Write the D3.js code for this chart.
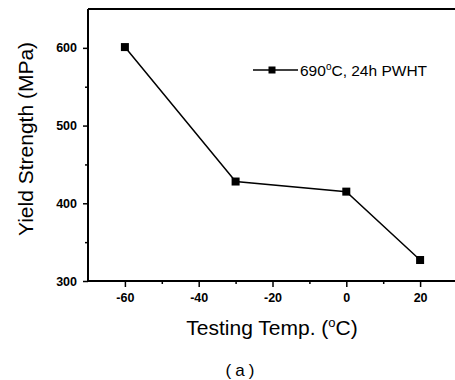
<!DOCTYPE html>
<html>
<head>
<meta charset="utf-8">
<script src="https://cdn.jsdelivr.net/npm/d3@7"></script>
<style>
html,body{margin:0;padding:0;background:#fff;overflow:hidden;}
svg{display:block;}
text{font-family:"Liberation Sans",Arial,sans-serif;fill:#000;}
</style>
</head>
<body>
<svg id="chart" width="455" height="380"></svg>
<script>
// Data
const temps = [-60, -30, 0, 20];
const yieldStrength = [601, 428, 415, 327];
const xTicks = [-60, -40, -20, 0, 20];
const xMinorTicks = [-50, -30, -10, 10];
const yTicks = [300, 400, 500, 600];
const yMinorTicks = [350, 450, 550];
const seriesName = "690";
const xTitle = "Testing Temp. (";
const yTitle = "Yield Strength (MPa)";
const caption = "(a)";

const svg = d3.select("#chart");
const x = d3.scaleLinear().domain([-70, 30]).range([88, 457]);
const y = d3.scaleLinear().domain([300, 650]).range([281, 9]);

// Axes
const fmt = d => String(d);
const gx = svg.append("g").attr("transform", "translate(0,281)")
  .call(d3.axisBottom(x).tickValues(xTicks).tickSize(6).tickPadding(6).tickFormat(fmt));
const gxm = svg.append("g").attr("transform", "translate(0,281)")
  .call(d3.axisBottom(x).tickValues(xMinorTicks).tickSize(3).tickFormat(""));
const gy = svg.append("g").attr("transform", "translate(88,0)")
  .call(d3.axisLeft(y).tickValues(yTicks).tickSize(5).tickPadding(6).tickFormat(fmt));
const gym = svg.append("g").attr("transform", "translate(88,0)")
  .call(d3.axisLeft(y).tickValues(yMinorTicks).tickSize(3).tickFormat(""));
[gx, gxm, gy, gym].forEach(g => {
  g.selectAll(".domain").remove();
  g.selectAll("line").attr("stroke", "#000").attr("stroke-width", 1.5);
  g.selectAll("text").attr("font-size", 12.5).attr("font-weight", "bold")
    .attr("font-family", "Liberation Sans, Arial, sans-serif").attr("fill", "#000");
});

// Frame lines (left, bottom, top)
svg.append("line").attr("x1", x(-70)).attr("x2", x(-70)).attr("y1", y(650)).attr("y2", y(300))
  .attr("stroke", "#000").attr("stroke-width", 2);
svg.append("line").attr("x1", x(-70)).attr("x2", x(30)).attr("y1", y(300)).attr("y2", y(300))
  .attr("stroke", "#000").attr("stroke-width", 2);
svg.append("line").attr("x1", x(-70)).attr("x2", x(30)).attr("y1", y(650)).attr("y2", y(650))
  .attr("stroke", "#000").attr("stroke-width", 2);

// Series line
const pts = temps.map((t, i) => [t, yieldStrength[i]]);
svg.append("path").datum(pts)
  .attr("d", d3.line().x(d => x(d[0])).y(d => y(d[1])))
  .attr("fill", "none").attr("stroke", "#000").attr("stroke-width", 1.5);
const ms = 8;
svg.selectAll("rect.pt").data(pts).enter().append("rect").attr("class", "pt")
  .attr("x", d => x(d[0]) - ms / 2).attr("y", d => y(d[1]) - ms / 2)
  .attr("width", ms).attr("height", ms).attr("fill", "#000");

// Legend
const lg = svg.append("g");
lg.append("line").attr("x1", 253).attr("x2", 298).attr("y1", 70).attr("y2", 70)
  .attr("stroke", "#000").attr("stroke-width", 1.5);
lg.append("rect").attr("x", 272 - 3.5).attr("y", 70 - 3.5).attr("width", 7).attr("height", 7).attr("fill", "#000");
const lt = lg.append("text").attr("x", 300).attr("y", 76).attr("font-size", 15.5);
lt.append("tspan").text(seriesName);
lt.append("tspan").attr("dy", -6).attr("font-size", 10).text("o");
lt.append("tspan").attr("dy", 6).text("C, 24h PWHT");

// Axis titles
const xt = svg.append("text").attr("x", 272).attr("y", 335).attr("text-anchor", "middle").attr("font-size", 21);
xt.append("tspan").text(xTitle);
xt.append("tspan").attr("dy", -8).attr("font-size", 13).text("o");
xt.append("tspan").attr("dy", 8).text("C)");

svg.append("text").attr("transform", "translate(33,139) rotate(-90)")
  .attr("text-anchor", "middle").attr("font-size", 21).text(yTitle);

// Caption
svg.append("text").attr("x", 242).attr("y", 376).attr("text-anchor", "middle")
  .attr("font-family", "Liberation Serif, DejaVu Serif, serif").attr("font-size", 17)
  .attr("letter-spacing", 4).text(caption);
</script>
</body>
</html>
